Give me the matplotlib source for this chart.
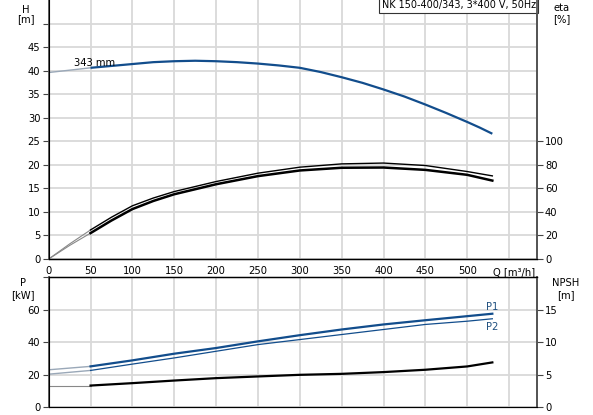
import matplotlib
matplotlib.use('Agg')
import matplotlib.pyplot as plt

# Pump curve readings, NK 150-400/343
q_h = [0, 25, 50, 75, 100, 125, 150, 175, 200, 225, 250, 275, 300, 325, 350,
       375, 400, 425, 450, 475, 500, 515, 530]
head = [39.6, 40.1, 40.6, 41.0, 41.4, 41.8, 42.0, 42.1, 42.0, 41.8, 41.5, 41.1,
        40.6, 39.7, 38.6, 37.4, 36.0, 34.5, 32.8, 31.0, 29.1, 27.9, 26.6]

q_eta = [0, 25, 50, 75, 100, 125, 150, 200, 250, 300, 350, 400, 450, 500, 530]
eta_pump = [0, 12.8, 24.7, 35.5, 45.2, 51.8, 57.3, 65.8, 72.9, 78.0, 80.8, 81.5, 79.4, 74.3, 70.6]
eta_total = [0, 11.5, 22.0, 32.7, 42.4, 49.3, 55.0, 63.5, 70.4, 75.2, 77.5, 77.7, 75.7, 71.5, 66.6]

q = [0, 50, 100, 150, 200, 250, 300, 350, 400, 450, 500, 530]
p1 = [22.9, 25.0, 28.7, 32.8, 36.3, 40.4, 44.2, 47.7, 50.8, 53.4, 55.9, 57.4]
p2 = [20.2, 22.5, 26.4, 30.2, 34.3, 38.4, 41.5, 44.6, 47.7, 50.8, 52.8, 54.3]
npsh = [3.3, 3.3, 3.67, 4.07, 4.44, 4.7, 4.95, 5.1, 5.37, 5.73, 6.24, 6.86]

x_ticks = list(range(0, 551, 50))
x_labels = [str(v) for v in range(0, 501, 50)] + ['']

blue = '#124d8c'
faint = '#9aa8b8'
grid_c = '#d9d9d9'
fs = 7.2

W, H = 593.0, 415.0
left, right = 48.7, 536.7


def style(ax):
    ax.grid(True, color=grid_c, linewidth=1.3)
    ax.set_axisbelow(True)
    ax.set_xlim(0, 583)
    ax.set_xticks(x_ticks)
    ax.tick_params(labelsize=fs, length=4, width=0.8, color='#444444', pad=2)
    ax.spines['left'].set_color('#555555')
    ax.spines['left'].set_linewidth(1.3)
    ax.spines['right'].set_color('#555555')
    ax.spines['right'].set_linewidth(1.3)


fig = plt.figure(figsize=(W / 100, H / 100), dpi=100)

# --- head / efficiency ---
ax_h = fig.add_axes([left / W, 1 - 259 / H, (right - left) / W, 259 / H])
style(ax_h)
ax_h.set_ylim(0, 55)
ax_h.set_yticks(range(0, 55, 5))
ax_h.set_yticklabels([str(v) for v in range(0, 50, 5)] + [''])
ax_h.set_xticklabels(x_labels)
ax_h.tick_params(axis='x', length=0, pad=5)
ax_h.spines['top'].set_visible(False)
ax_h.spines['bottom'].set_linewidth(1.0)

ax_h.plot(q_h[:3], head[:3], color=faint, lw=1.0)
ax_h.plot(q_h[2:], head[2:], color=blue, lw=1.6, solid_capstyle='butt')
ax_h.text(30, 41.7, '343 mm', fontsize=fs, color='black', va='center')
ax_h.text(556, -1.7, 'Q [m\u00b3/h]', fontsize=fs, ha='center', va='top')
ax_h.text(0.9985, 0.999, 'NK 150-400/343, 3*400 V, 50Hz', transform=ax_h.transAxes,
          fontsize=6.9, ha='right', va='top',
          bbox=dict(boxstyle='square,pad=0.25', fc='white', ec='#333333', lw=0.8))

ax_eta = ax_h.twinx()
ax_eta.set_ylim(0, 220)
ax_eta.set_yticks(range(0, 101, 20))
ax_eta.tick_params(labelsize=fs, length=4, width=0.8, color='#444444', pad=2)
ax_eta.spines['top'].set_visible(False)
ax_eta.spines['right'].set_color('#555555')
ax_eta.spines['right'].set_linewidth(1.3)
ax_eta.plot(q_eta[:3], eta_pump[:3], color='#888888', lw=0.8)
ax_eta.plot(q_eta[:3], eta_total[:3], color='#888888', lw=0.8)
ax_eta.plot(q_eta[2:], eta_pump[2:], color='black', lw=1.0)
ax_eta.plot(q_eta[2:], eta_total[2:], color='black', lw=1.8)

# --- power / NPSH ---
ax_p = fig.add_axes([left / W, 1 - 407 / H, (right - left) / W, 130 / H])
style(ax_p)
ax_p.set_ylim(0, 80)
ax_p.set_yticks([0, 20, 40, 60, 80])
ax_p.set_yticklabels(['0', '20', '40', '60', ''])
ax_p.set_xticklabels([])
ax_p.tick_params(axis='x', length=0)
ax_p.spines['top'].set_color('black')
ax_p.spines['top'].set_linewidth(1.0)

ax_p.plot(q[:2], p1[:2], color=faint, lw=1.0)
ax_p.plot(q[:2], p2[:2], color=faint, lw=1.0)
ax_p.plot(q[1:], p1[1:], color=blue, lw=1.6)
ax_p.plot(q[1:], p2[1:], color=blue, lw=0.9)
ax_p.text(530, 61.3, 'P1', fontsize=fs, color='#1f4f7f', ha='center', va='center')
ax_p.text(530, 49.5, 'P2', fontsize=fs, color='#1f4f7f', ha='center', va='center')

ax_n = ax_p.twinx()
ax_n.set_ylim(0, 20)
ax_n.set_yticks([0, 5, 10, 15])
ax_n.tick_params(labelsize=fs, length=4, width=0.8, color='#444444', pad=2)
ax_n.spines['right'].set_color('#555555')
ax_n.spines['right'].set_linewidth(1.3)
ax_n.plot(q[:2], npsh[:2], color='#888888', lw=0.8)
ax_n.plot(q[1:], npsh[1:], color='black', lw=1.6)

# axis captions
fig.text(26 / W, 1 - 10 / H, 'H', fontsize=fs, ha='center', va='center')
fig.text(26 / W, 1 - 19 / H, '[m]', fontsize=fs, ha='center', va='center')
fig.text(562 / W, 1 - 8 / H, 'eta', fontsize=fs, ha='center', va='center')
fig.text(562 / W, 1 - 19 / H, '[%]', fontsize=fs, ha='center', va='center')
fig.text(23 / W, 1 - 283 / H, 'P', fontsize=fs, ha='center', va='center')
fig.text(23 / W, 1 - 295 / H, '[kW]', fontsize=fs, ha='center', va='center')
fig.text(566 / W, 1 - 283 / H, 'NPSH', fontsize=fs, ha='center', va='center')
fig.text(566 / W, 1 - 295 / H, '[m]', fontsize=fs, ha='center', va='center')

fig.savefig('out.png', dpi=100)
